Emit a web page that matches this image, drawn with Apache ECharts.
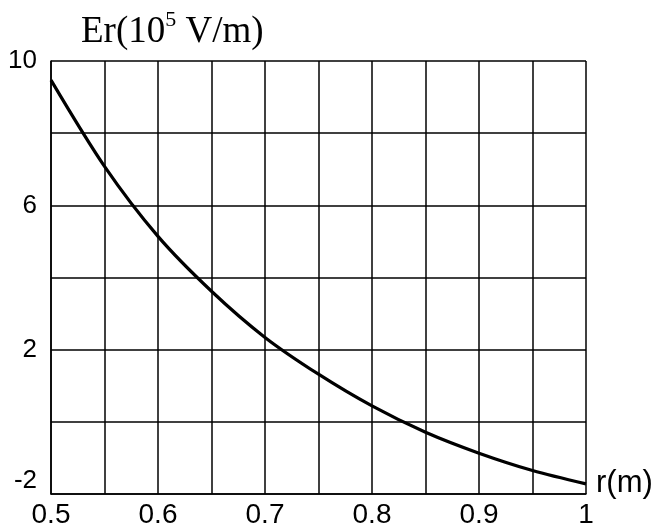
<!DOCTYPE html>
<html>
<head>
<meta charset="utf-8">
<script src="https://cdn.jsdelivr.net/npm/echarts@6/dist/echarts.min.js"></script>
<style>
  html, body { margin: 0; padding: 0; background: #fff; }
  #chart { width: 656px; height: 529px; }
</style>
</head>
<body>
<div id="chart"></div>
<script>
// Radial field strength Er versus radius r
const radius = [0.5, 0.55, 0.6, 0.65, 0.7, 0.75, 0.8, 0.85, 0.9, 0.95, 1.0];
const fieldEr = [9.47, 7.08, 5.14, 3.62, 2.34, 1.32, 0.44, -0.29, -0.87, -1.35, -1.72];
const xTickLabels = ['0.5', '0.6', '0.7', '0.8', '0.9', '1'];
const yTickLabels = ['-2', '2', '6', '10'];

const chart = echarts.init(document.getElementById('chart'));

const sans = '"Liberation Sans", Arial, sans-serif';
const serif = '"Liberation Serif", "Times New Roman", serif';

chart.setOption({
  animation: false,
  backgroundColor: '#fff',
  title: {
    left: 76,
    top: 4,
    text: '{a|Er(10}{s|5}{a| V/m)}',
    textStyle: {
      rich: {
        a: { fontFamily: serif, fontSize: 37, fontWeight: 'normal', color: '#000', lineHeight: 42, verticalAlign: 'bottom' },
        s: { fontFamily: serif, fontSize: 22, fontWeight: 'normal', color: '#000', lineHeight: 42, verticalAlign: 'top' }
      }
    }
  },
  grid: { left: 51, right: 70, top: 61, bottom: 34, containLabel: false },
  xAxis: {
    type: 'value',
    min: 0.5,
    max: 1,
    interval: 0.05,
    name: 'r(m)',
    nameLocation: 'end',
    nameGap: 10,
    nameTextStyle: { fontFamily: sans, fontSize: 31, color: '#000', verticalAlign: 'bottom', padding: [0, 0, -5, 0] },
    axisLine: { show: true, onZero: false, lineStyle: { color: '#000', width: 1.5 } },
    axisTick: { show: false },
    splitLine: { show: true, lineStyle: { color: '#000', width: 1.5 } },
    axisLabel: {
      fontFamily: sans,
      fontSize: 28,
      color: '#000',
      margin: 7,
      formatter: function (v) {
        const k = Math.round(v * 100);
        if (k % 10 !== 0) return '';
        const s = k === 100 ? '1' : (k / 100).toFixed(1);
        return xTickLabels.indexOf(s) >= 0 ? s : '';
      }
    }
  },
  yAxis: {
    type: 'value',
    min: -2,
    max: 10,
    interval: 2,
    axisLine: { show: true, onZero: false, lineStyle: { color: '#000', width: 1.5 } },
    axisTick: { show: false },
    splitLine: { show: true, lineStyle: { color: '#000', width: 1.5 } },
    axisLabel: {
      fontFamily: sans,
      fontSize: 26,
      color: '#000',
      margin: 14,
      formatter: function (v) {
        const s = String(Math.round(v));
        if (yTickLabels.indexOf(s) < 0) return '';
        return s === '-2' ? '{low|' + s + '}' : s;
      },
      rich: {
        low: { fontFamily: sans, fontSize: 26, color: '#000', padding: [0, 0, 26, 0] }
      }
    }
  },
  series: [{
    type: 'line',
    data: radius.map((r, i) => [r, fieldEr[i]]),
    smooth: 0.3,
    showSymbol: false,
    lineStyle: { color: '#000', width: 3.2 }
  }]
});
</script>
</body>
</html>
